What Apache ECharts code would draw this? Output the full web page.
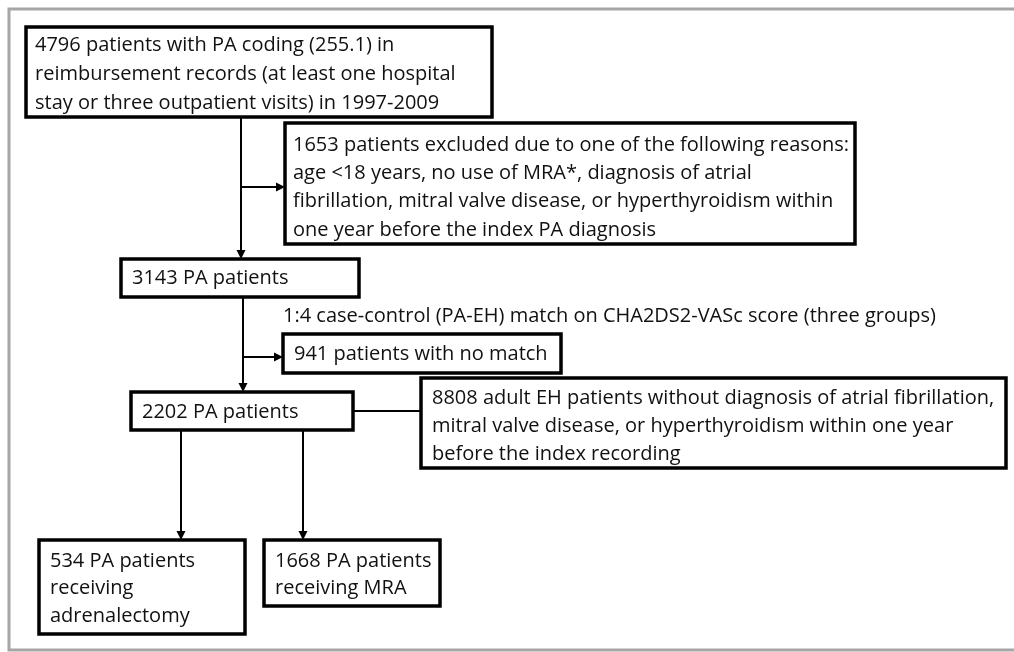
<!DOCTYPE html>
<html>
<head>
<meta charset="utf-8">
<script src="https://cdn.jsdelivr.net/npm/echarts@6/dist/echarts.min.js"></script>
<style>html,body{margin:0;padding:0;background:#fff;}#c{width:1014px;height:652px;}</style>
</head>
<body>
<div id="c"></div>
<script>
// ---- chart content (texts) ----
var boxTexts = [
  "4796 patients with PA coding (255.1) in\nreimbursement records (at least one hospital\nstay or three outpatient visits) in 1997-2009",
  "1653 patients excluded due to one of the following reasons:\nage <18 years, no use of MRA*, diagnosis of atrial\nfibrillation, mitral valve disease, or hyperthyroidism within\none year before the index PA diagnosis",
  "3143 PA patients",
  "941 patients with no match",
  "2202 PA patients",
  "8808 adult EH patients without diagnosis of atrial fibrillation,\nmitral valve disease, or hyperthyroidism within one year\nbefore the index recording",
  "534 PA patients\nreceiving\nadrenalectomy",
  "1668 PA patients\nreceiving MRA"
];
var noteTexts = ["1:4 case-control (PA-EH) match on CHA2DS2-VASc score (three groups)"];

// ---- layout (positions in the hidden axes' units) ----
var boxLayout = [
  {x1: 26, y1: 27, x2: 492, y2: 117, tx: 35, ty: 45, lh: 29},
  {x1: 285, y1: 123, x2: 855, y2: 244, tx: 293, ty: 145, lh: 28.3},
  {x1: 121, y1: 259, x2: 359, y2: 297, tx: 132, ty: 278, lh: 28},
  {x1: 283, y1: 334, x2: 561, y2: 373, tx: 294, ty: 354, lh: 28},
  {x1: 131, y1: 392, x2: 353, y2: 430, tx: 142, ty: 412, lh: 28},
  {x1: 421, y1: 378, x2: 1006, y2: 468, tx: 432, ty: 398, lh: 28},
  {x1: 39, y1: 540, x2: 245, y2: 634, tx: 50, ty: 561, lh: 27.5},
  {x1: 264, y1: 540, x2: 440, y2: 606, tx: 275, ty: 561, lh: 27.5}
];
var noteLayout = [{tx: 283, ty: 316}];
var connectors = [
  {x1: 241, y1: 117, x2: 241, y2: 259, arrow: true},
  {x1: 241, y1: 187, x2: 285, y2: 187, arrow: true},
  {x1: 243, y1: 297, x2: 243, y2: 392, arrow: true},
  {x1: 243, y1: 357, x2: 283, y2: 357, arrow: true},
  {x1: 353, y1: 411, x2: 421, y2: 411, arrow: false},
  {x1: 181, y1: 430, x2: 181, y2: 540, arrow: true},
  {x1: 303, y1: 430, x2: 303, y2: 540, arrow: true}
];

var FONT = '"Open Sans", sans-serif';
var FSIZE = 20;

var boxData = boxTexts.map(function (t, i) {
  var b = boxLayout[i];
  return [b.x1, b.y1, b.x2, b.y2, b.tx, b.ty, b.lh, i];
});
var connData = connectors.map(function (c) {
  return [c.x1, c.y1, c.x2, c.y2, c.arrow ? 1 : 0];
});
var noteData = noteTexts.map(function (t, i) {
  return [noteLayout[i].tx, noteLayout[i].ty, i];
});

var chart = echarts.init(document.getElementById('c'), null, {renderer: 'canvas'});
chart.setOption({
  backgroundColor: '#ffffff',
  animation: false,
  grid: {left: 0, right: 0, top: 0, bottom: 0},
  xAxis: {type: 'value', min: 0, max: 1014, show: false},
  yAxis: {type: 'value', min: 0, max: 652, inverse: true, show: false},
  series: [
    {
      type: 'custom',
      name: 'frame',
      data: [[9, 9, 1030, 650]],
      renderItem: function (params, api) {
        var p1 = api.coord([api.value(0), api.value(1)]);
        var p2 = api.coord([api.value(2), api.value(3)]);
        return {
          type: 'rect',
          shape: {x: p1[0], y: p1[1], width: p2[0] - p1[0], height: p2[1] - p1[1]},
          style: {fill: null, stroke: '#a6a6a6', lineWidth: 3}
        };
      }
    },
    {
      type: 'custom',
      name: 'connectors',
      data: connData,
      renderItem: function (params, api) {
        var a = api.coord([api.value(0), api.value(1)]);
        var b = api.coord([api.value(2), api.value(3)]);
        var hasArrow = api.value(4) === 1;
        var children = [];
        var dx = b[0] - a[0], dy = b[1] - a[1];
        var len = Math.sqrt(dx * dx + dy * dy);
        var ux = dx / len, uy = dy / len;
        var ah = 9, aw = 4.5;
        var end = hasArrow ? [b[0] - ux * ah, b[1] - uy * ah] : b;
        children.push({
          type: 'line',
          shape: {x1: a[0], y1: a[1], x2: end[0], y2: end[1]},
          style: {stroke: '#000', lineWidth: 2}
        });
        if (hasArrow) {
          var bx = b[0] - ux * ah, by = b[1] - uy * ah;
          children.push({
            type: 'polygon',
            shape: {points: [[b[0], b[1]], [bx - uy * aw, by + ux * aw], [bx + uy * aw, by - ux * aw]]},
            style: {fill: '#000'}
          });
        }
        return {type: 'group', children: children};
      }
    },
    {
      type: 'custom',
      name: 'boxes',
      data: boxData,
      renderItem: function (params, api) {
        var p1 = api.coord([api.value(0), api.value(1)]);
        var p2 = api.coord([api.value(2), api.value(3)]);
        var t = api.coord([api.value(4), api.value(5)]);
        var lh = api.value(6);
        var idx = api.value(7);
        return {
          type: 'group',
          children: [
            {
              type: 'rect',
              shape: {x: p1[0], y: p1[1], width: p2[0] - p1[0], height: p2[1] - p1[1]},
              style: {fill: '#fff', stroke: '#000', lineWidth: 3.5}
            },
            {
              type: 'text',
              x: t[0], y: t[1] - lh / 2,
              style: {
                text: boxTexts[idx],
                font: FSIZE + 'px ' + FONT,
                fill: '#111',
                lineHeight: lh,
                verticalAlign: 'top',
                align: 'left'
              }
            }
          ]
        };
      }
    },
    {
      type: 'custom',
      name: 'notes',
      data: noteData,
      renderItem: function (params, api) {
        var t = api.coord([api.value(0), api.value(1)]);
        return {
          type: 'text',
          x: t[0], y: t[1],
          style: {
            text: noteTexts[api.value(2)],
            font: FSIZE + 'px ' + FONT,
            fill: '#111',
            verticalAlign: 'middle',
            align: 'left'
          }
        };
      }
    }
  ]
});
</script>
</body>
</html>
